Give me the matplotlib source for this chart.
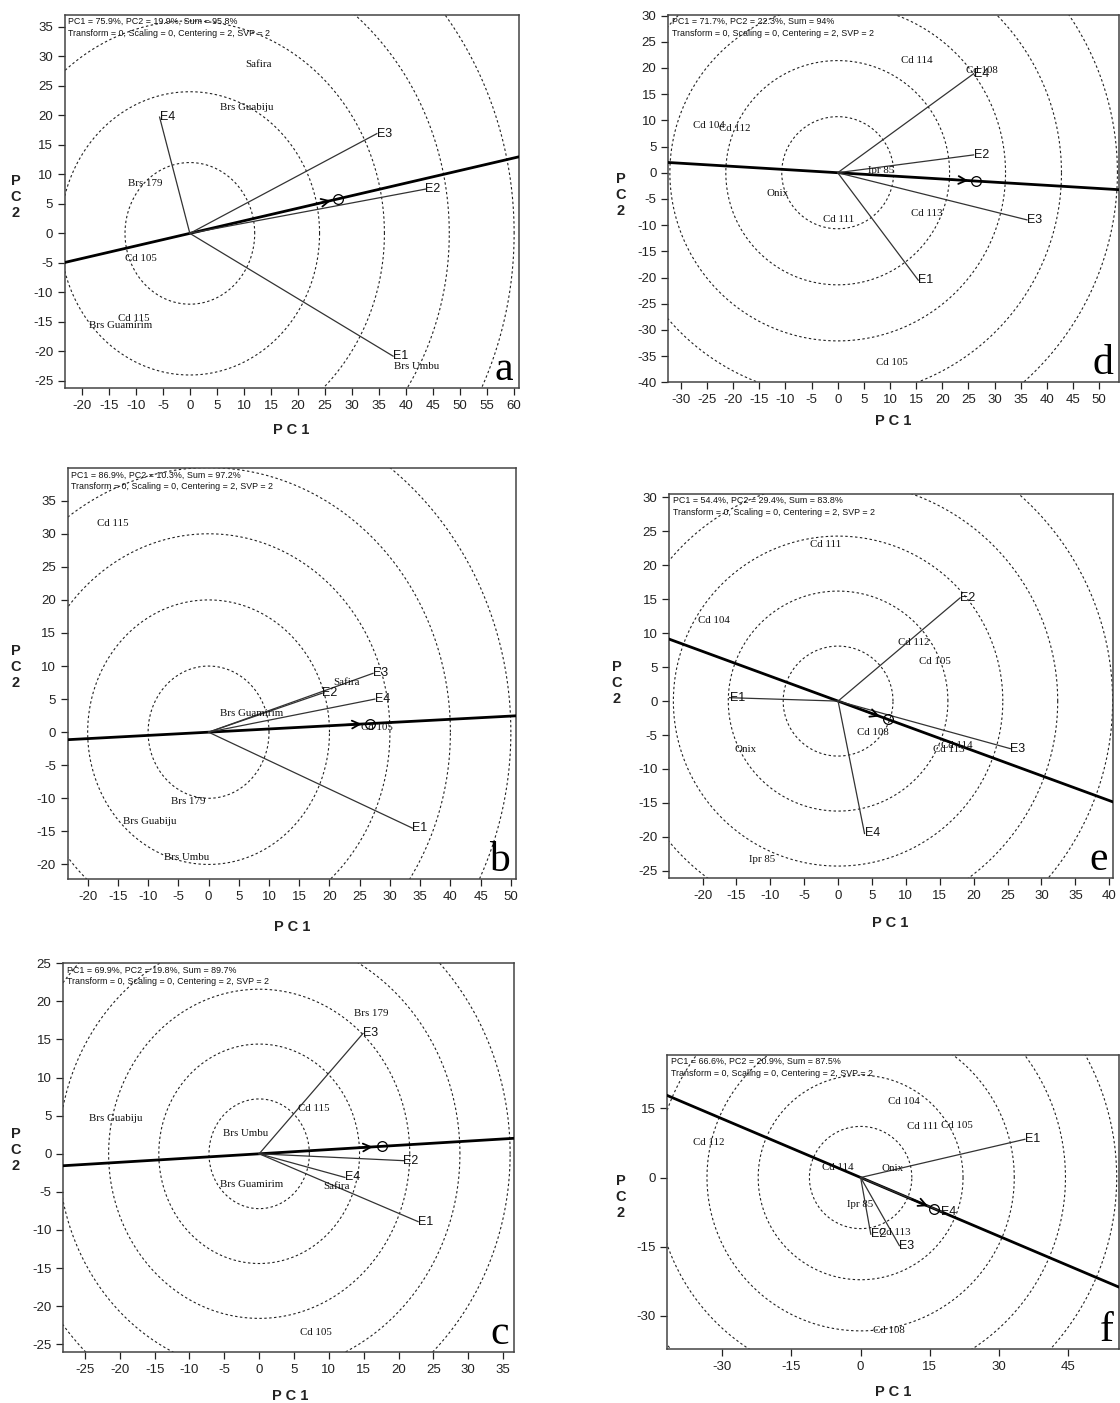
import numpy as np
import matplotlib
matplotlib.use("Agg")
import matplotlib.pyplot as plt

plt.rcParams["axes.unicode_minus"] = False

W, H = 1120, 1403
SANS = ["Liberation Sans", "DejaVu Sans"]
SERIF = ["Liberation Serif", "DejaVu Serif"]

TRANSFORM_TXT = "Transform = 0, Scaling = 0, Centering = 2, SVP = 2"

# ---------------- panel a ----------------
a_stats = "PC1 = 75.9%, PC2 = 19.9%, Sum = 95.8%"
a_env = ["E1", "E2", "E3", "E4"]
a_env_x = [37.6, 43.6, 34.6, -5.6]
a_env_y = [-20.8, 7.5, 16.9, 19.7]
a_gen = ["Safira", "Brs Guabiju", "Brs 179", "Cd 105", "Cd 115", "Brs Guamirim", "Brs Umbu"]
a_gen_x = [12.7, 10.5, -8.3, -9.1, -10.3, -12.8, 42.0]
a_gen_y = [28.6, 21.4, 8.5, -4.2, -14.4, -15.6, -22.5]
a_mean = (27.5, 5.86)
a_ring = 12.0
a_xlim = (-23.1, 60.9)
a_ylim = (-26.2, 37.0)
a_xticks = list(range(-20, 61, 5))
a_yticks = list(range(-25, 36, 5))

# ---------------- panel b ----------------
b_stats = "PC1 = 86.9%, PC2 = 10.3%, Sum = 97.2%"
b_env = ["E1", "E2", "E3", "E4"]
b_env_x = [33.7, 18.8, 27.2, 27.5]
b_env_y = [-14.5, 5.9, 8.9, 5.0]
b_gen = ["Cd 115", "Safira", "Brs Guamirim", "Cd 105", "Brs 179", "Brs Guabiju", "Brs Umbu"]
b_gen_x = [-15.8, 22.8, 7.2, 27.8, -3.4, -9.7, -3.7]
b_gen_y = [31.5, 7.5, 2.8, 0.7, -10.5, -13.5, -18.9]
b_mean = (26.7, 1.3)
b_ring = 10.0
b_xlim = (-23.3, 50.8)
b_ylim = (-22.2, 39.9)
b_xticks = list(range(-20, 51, 5))
b_yticks = list(range(-20, 36, 5))

# ---------------- panel c ----------------
c_stats = "PC1 = 69.9%, PC2 = 19.8%, Sum = 89.7%"
c_env = ["E1", "E2", "E3", "E4"]
c_env_x = [22.8, 20.7, 14.9, 12.3]
c_env_y = [-8.9, -0.9, 15.8, -3.1]
c_gen = ["Brs 179", "Cd 115", "Brs Guabiju", "Brs Umbu", "Brs Guamirim", "Safira", "Cd 105"]
c_gen_x = [16.1, 7.8, -20.6, -2.0, -1.1, 11.1, 8.2]
c_gen_y = [18.4, 5.9, 4.6, 2.6, -4.0, -4.3, -23.4]
c_mean = (17.6, 0.98)
c_ring = 7.2
c_xlim = (-28.1, 36.6)
c_ylim = (-26.05, 25.0)
c_xticks = list(range(-25, 36, 5))
c_yticks = list(range(-25, 26, 5))

# ---------------- panel d ----------------
d_stats = "PC1 = 71.7%, PC2 = 22.3%, Sum = 94%"
d_env = ["E1", "E2", "E3", "E4"]
d_env_x = [15.4, 26.0, 36.2, 26.0]
d_env_y = [-20.5, 3.4, -9.0, 18.9]
d_gen = ["Cd 114", "Cd 108", "Cd 104", "Cd 112", "Ipr 85", "Onix", "Cd 111", "Cd 113", "Cd 105"]
d_gen_x = [15.1, 27.6, -24.7, -19.6, 8.3, -11.5, 0.15, 17.0, 10.4]
d_gen_y = [21.5, 19.5, 9.1, 8.5, 0.35, -3.9, -9.0, -7.7, -36.2]
d_mean = (26.4, -1.59)
d_ring = 10.7
d_xlim = (-32.4, 53.8)
d_ylim = (-40.0, 30.1)
d_xticks = list(range(-30, 51, 5))
d_yticks = list(range(-40, 31, 5))

# ---------------- panel e ----------------
e_stats = "PC1 = 54.4%, PC2 = 29.4%, Sum = 83.8%"
e_env = ["E1", "E2", "E3", "E4"]
e_env_x = [-16.0, 18.0, 25.4, 3.9]
e_env_y = [0.5, 15.2, -7.0, -19.5]
e_gen = ["Cd 111", "Cd 104", "Cd 112", "Cd 105", "Cd 108", "Cd 114", "Cd 113", "Onix", "Ipr 85"]
e_gen_x = [-1.9, -18.3, 11.1, 14.3, 5.2, 17.5, 16.3, -13.6, -11.2]
e_gen_y = [23.1, 11.9, 8.7, 5.8, -4.6, -6.5, -7.1, -7.1, -23.3]
e_mean = (7.4, -2.71)
e_ring = 8.1
e_xlim = (-24.9, 40.6)
e_ylim = (-26.1, 30.5)
e_xticks = list(range(-20, 41, 5))
e_yticks = list(range(-25, 31, 5))

# ---------------- panel f ----------------
f_stats = "PC1 = 66.6%, PC2 = 20.9%, Sum = 87.5%"
f_env = ["E1", "E2", "E3", "E4"]
f_env_x = [35.6, 2.2, 8.4, 17.5]
f_env_y = [8.3, -12.3, -14.8, -7.4]
f_gen = ["Cd 104", "Cd 111", "Cd 105", "Cd 112", "Cd 114", "Onix", "Ipr 85", "Cd 113", "Cd 108"]
f_gen_x = [9.4, 13.4, 20.8, -32.9, -4.9, 6.9, -0.15, 7.4, 6.2]
f_gen_y = [16.6, 11.0, 11.2, 7.5, 2.2, 2.0, -5.8, -12.0, -33.3]
f_mean = (16.0, -6.8)
f_ring = 11.1
f_xlim = (-41.9, 56.0)
f_ylim = (-37.3, 26.6)
f_xticks = [-30, -15, 0, 15, 30, 45]
f_yticks = [-30, -15, 0, 15]

N_RINGS = 5

# layout (pixel boxes: left, top, right, bottom) and label positions
panels = [
    dict(box=(65, 15, 519, 388), pc1=(291, 430), pc2=(16, 197), letter="a",
         stats=a_stats, env=a_env, ex=a_env_x, ey=a_env_y, gen=a_gen, gx=a_gen_x, gy=a_gen_y,
         mean=a_mean, ring=a_ring, xlim=a_xlim, ylim=a_ylim, xt=a_xticks, yt=a_yticks),
    dict(box=(67.7, 468.3, 515.7, 879), pc1=(292, 927), pc2=(16, 667), letter="b",
         stats=b_stats, env=b_env, ex=b_env_x, ey=b_env_y, gen=b_gen, gx=b_gen_x, gy=b_gen_y,
         mean=b_mean, ring=b_ring, xlim=b_xlim, ylim=b_ylim, xt=b_xticks, yt=b_yticks),
    dict(box=(63.3, 963.3, 514.3, 1352.3), pc1=(290, 1396), pc2=(16, 1150), letter="c",
         stats=c_stats, env=c_env, ex=c_env_x, ey=c_env_y, gen=c_gen, gx=c_gen_x, gy=c_gen_y,
         mean=c_mean, ring=c_ring, xlim=c_xlim, ylim=c_ylim, xt=c_xticks, yt=c_yticks),
    dict(box=(668.3, 15, 1119, 382.3), pc1=(893, 421), pc2=(621, 195), letter="d",
         stats=d_stats, env=d_env, ex=d_env_x, ey=d_env_y, gen=d_gen, gx=d_gen_x, gy=d_gen_y,
         mean=d_mean, ring=d_ring, xlim=d_xlim, ylim=d_ylim, xt=d_xticks, yt=d_yticks),
    dict(box=(669.3, 494, 1113.3, 878.3), pc1=(890, 923), pc2=(617, 683), letter="e",
         stats=e_stats, env=e_env, ex=e_env_x, ey=e_env_y, gen=e_gen, gx=e_gen_x, gy=e_gen_y,
         mean=e_mean, ring=e_ring, xlim=e_xlim, ylim=e_ylim, xt=e_xticks, yt=e_yticks),
    dict(box=(667.3, 1055, 1119, 1349.3), pc1=(893, 1392), pc2=(621, 1197), letter="f",
         stats=f_stats, env=f_env, ex=f_env_x, ey=f_env_y, gen=f_gen, gx=f_gen_x, gy=f_gen_y,
         mean=f_mean, ring=f_ring, xlim=f_xlim, ylim=f_ylim, xt=f_xticks, yt=f_yticks),
]

fig = plt.figure(figsize=(W / 100, H / 100), dpi=100)
fig.patch.set_facecolor("white")

theta = np.linspace(0, 2 * np.pi, 721)

for p in panels:
    l, t, r, b = p["box"]
    ax = fig.add_axes([l / W, 1 - b / H, (r - l) / W, (b - t) / H])
    ax.set_xlim(*p["xlim"])
    ax.set_ylim(*p["ylim"])
    ax.set_xticks(p["xt"])
    ax.set_yticks(p["yt"])
    ax.tick_params(direction="out", length=5, width=0.9, pad=3.5, labelsize=9.5,
                   colors="#222222")
    for lab in ax.get_xticklabels() + ax.get_yticklabels():
        lab.set_fontfamily(SANS)
    for s in ax.spines.values():
        s.set_color("#444444")
        s.set_linewidth(1.1)

    # concentric rings
    for k in range(1, N_RINGS + 1):
        rad = k * p["ring"]
        ax.plot(rad * np.cos(theta), rad * np.sin(theta), color="#222222", lw=0.8,
                ls=(0, (2.2, 2.2)), zorder=1)

    # average environment axis
    mx, my = p["mean"]
    ax.axline((0, 0), (mx, my), color="black", lw=2.0, zorder=3)
    ax.plot([mx], [my], marker="o", ms=7, mfc="none", mec="black", mew=0.9, zorder=5)
    L = np.hypot(mx, my)
    ux, uy = mx / L, my / L
    span = p["xlim"][1] - p["xlim"][0]
    back = 0.06 * span
    ax.annotate("", xy=(mx - ux * 0.9, my - uy * 0.9),
                xytext=(mx - ux * back, my - uy * back),
                arrowprops=dict(arrowstyle="->", lw=1.3, color="black", mutation_scale=14),
                zorder=6)

    # environment vectors
    for name, x, y in zip(p["env"], p["ex"], p["ey"]):
        ax.plot([0, x], [0, y], color="#333333", lw=0.9, zorder=4)
        ax.text(x, y, name, ha="left", va="center", fontsize=9, family=SANS,
                color="#111111", zorder=7)

    # genotypes
    for name, x, y in zip(p["gen"], p["gx"], p["gy"]):
        ax.text(x, y, name, ha="center", va="center", fontsize=7.8, family=SERIF,
                color="#111111", zorder=7)

    # stats
    ax.annotate(p["stats"] + "\n" + TRANSFORM_TXT, xy=(0, 1), xycoords="axes fraction",
                xytext=(2.5, -1.5), textcoords="offset points", ha="left", va="top",
                fontsize=6.4, family=SANS, linespacing=1.4, color="#111111", zorder=8)

    # panel letter
    ax.annotate(p["letter"], xy=(1, 0), xycoords="axes fraction", xytext=(-4, 6),
                textcoords="offset points", ha="right", va="baseline", fontsize=30,
                family=SERIF, color="black", zorder=8)

    # axis titles
    px, py = p["pc1"]
    fig.text(px / W, 1 - py / H, "P C 1", ha="center", va="center", fontsize=10.5,
             fontweight="bold", family=SANS, color="#222222")
    qx, qy = p["pc2"]
    fig.text(qx / W, 1 - qy / H, "P\nC\n2", ha="center", va="center", fontsize=10.5,
             fontweight="bold", family=SANS, color="#222222", linespacing=1.15)

fig.savefig("out.png", dpi=100, facecolor="white")
